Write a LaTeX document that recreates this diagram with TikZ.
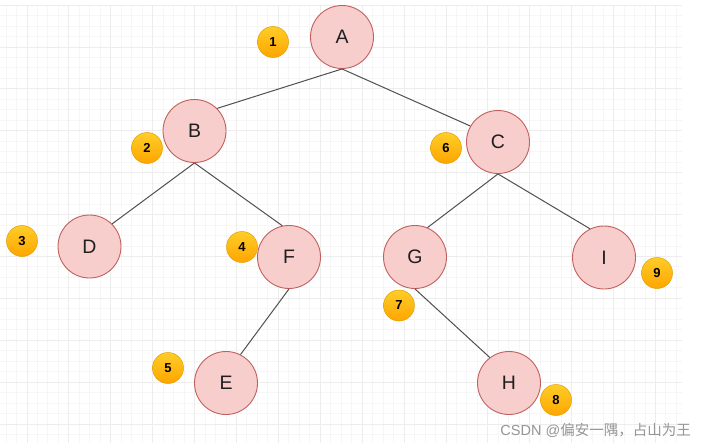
\documentclass[tikz,border=0pt]{standalone}
\usepackage{fontspec}
\setmainfont{Liberation Sans}
\newfontfamily\cjk{Noto Sans CJK SC}
\definecolor{nodefill}{HTML}{F8CECC}
\definecolor{nodedraw}{HTML}{C0615D}
\definecolor{badgetop}{HTML}{FFCD28}
\definecolor{badgebot}{HTML}{FFA500}
\definecolor{badgedraw}{HTML}{E0A000}
\definecolor{edgecol}{HTML}{505050}
\definecolor{gridminor}{HTML}{F6F6F6}
\definecolor{gridmajor}{HTML}{EDEDED}
\definecolor{wmark}{HTML}{959595}
\tikzset{
  treenode/.style={circle, fill=nodefill, draw=nodedraw, line width=0.9pt, minimum size=63pt, inner sep=0pt, font=\fontsize{19.5}{19.5}\selectfont, text=black!88},
  badge/.style={circle, top color=badgetop, bottom color=badgebot, draw=badgedraw, line width=0.5pt, minimum size=31pt, inner sep=0pt, font=\bfseries\fontsize{13}{13}\selectfont, text=black},
  edge/.style={draw=edgecol, line width=1pt},
  minorline/.style={draw=gridminor, line width=1pt},
  majorline/.style={draw=gridmajor, line width=1pt}
}
\begin{document}
\begin{tikzpicture}[x=1pt,y=-1pt]
\useasboundingbox (0,0) rectangle (706,447);
\fill[white] (0,0) rectangle (706,447);
% grid
\foreach \i in {0,...,64} {\draw[minorline] ({6.05+10.475*\i},5) -- ({6.05+10.475*\i},443);}
\foreach \i in {0,...,41} {\draw[minorline] (0,{5.1+10.475*\i}) -- (682,{5.1+10.475*\i});}
\foreach \i in {0,...,15} {\draw[majorline] ({27+41.9*\i},5) -- ({27+41.9*\i},443);}
\foreach \i in {0,...,10} {\draw[majorline] (0,{5.1+41.9*\i}) -- (682,{5.1+41.9*\i});}
% tree nodes
\node[treenode] (A) at (342,37) {A};
\node[treenode] (B) at (194.5,131) {B};
\node[treenode] (C) at (498,142) {C};
\node[treenode] (D) at (89.5,246.5) {D};
\node[treenode] (F) at (289,257) {F};
\node[treenode] (G) at (415,257) {G};
\node[treenode] (I) at (604,257.5) {I};
\node[treenode] (E) at (226,383) {E};
\node[treenode] (H) at (509,383) {H};
% edges
\draw[edge] (A.south) -- (B.45);
\draw[edge] (A.south) -- (C.150);
\draw[edge] (B.south) -- (D.45);
\draw[edge] (B.south) -- (F.102);
\draw[edge] (C.south) -- (G.67);
\draw[edge] (C.south) -- (I.116);
\draw[edge] (F.south) -- (E.63);
\draw[edge] (G.south) -- (H.127);
% badges
\node[badge] (b1) at (273,42) {1};
\node[badge] (b2) at (147,148) {2};
\node[badge] (b3) at (22,241) {3};
\node[badge] (b4) at (242,247) {4};
\node[badge] (b5) at (168,368) {5};
\node[badge] (b6) at (446,148) {6};
\node[badge] (b7) at (399,305.5) {7};
\node[badge] (b8) at (556,400) {8};
\node[badge] (b9) at (657,273) {9};
% watermark
\node[anchor=east, inner sep=0pt, text=wmark, font=\fontsize{14.5}{14.5}\selectfont] (wm) at (691,430.5) {CSDN @{\cjk 偏安一隅，占山为王}};
\end{tikzpicture}
\end{document}
